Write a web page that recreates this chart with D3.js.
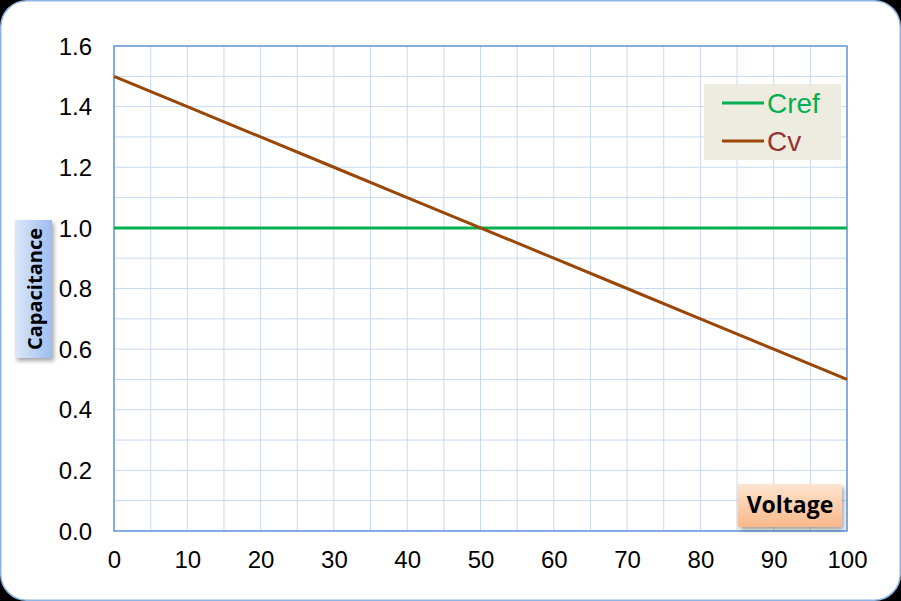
<!DOCTYPE html>
<html><head><meta charset="utf-8">
<script src="https://cdn.jsdelivr.net/npm/d3@7"></script>
<style>html,body{margin:0;padding:0;background:#000;}svg{display:block;}</style>
</head><body>
<script>
const voltage = [0, 10, 20, 30, 40, 50, 60, 70, 80, 90, 100];
const cref = [1.0, 1.0, 1.0, 1.0, 1.0, 1.0, 1.0, 1.0, 1.0, 1.0, 1.0];
const cv = [1.5, 1.4, 1.3, 1.2, 1.1, 1.0, 0.9, 0.8, 0.7, 0.6, 0.5];
const xTicks = [0, 10, 20, 30, 40, 50, 60, 70, 80, 90, 100];
const yTicks = [0, 0.2, 0.4, 0.6, 0.8, 1.0, 1.2, 1.4, 1.6];
const seriesNames = ["Cref", "Cv"];

const W = 901, H = 601;
const svg = d3.select("body").append("svg").attr("width", W).attr("height", H);
const defs = svg.append("defs");

const gBlue = defs.append("linearGradient").attr("id", "gBlue").attr("x1", 0).attr("x2", 1).attr("y1", 0).attr("y2", 0);
gBlue.append("stop").attr("offset", "0%").attr("stop-color", "#dce8f9");
gBlue.append("stop").attr("offset", "100%").attr("stop-color", "#9dbcf0");
const gOr = defs.append("linearGradient").attr("id", "gOr").attr("x1", 0).attr("x2", 0).attr("y1", 0).attr("y2", 1);
gOr.append("stop").attr("offset", "0%").attr("stop-color", "#fde4d0");
gOr.append("stop").attr("offset", "100%").attr("stop-color", "#f9b98a");
const sh = defs.append("filter").attr("id", "sh").attr("x", "-30%").attr("y", "-30%").attr("width", "160%").attr("height", "160%");
sh.append("feDropShadow").attr("dx", 2).attr("dy", 3).attr("stdDeviation", 2).attr("flood-color", "#000").attr("flood-opacity", 0.35);

svg.append("rect").attr("x", 0.75).attr("y", 0.75).attr("width", W - 1.5).attr("height", H - 1.5)
  .attr("rx", 26).attr("ry", 26).attr("fill", "#fff").attr("stroke", "#8db4e2").attr("stroke-width", 1.5);

const L = 114, R = 847, T = 46, B = 531;
const x = d3.scaleLinear().domain([0, 100]).range([L, R]);
const y = d3.scaleLinear().domain([0, 1.6]).range([B, T]);

// gridlines
const grid = svg.append("g");
grid.selectAll(".vg").data(d3.range(5, 100, 5)).enter().append("line")
  .attr("x1", d => x(d)).attr("x2", d => x(d)).attr("y1", T).attr("y2", B)
  .attr("stroke", "#c6d9f1").attr("stroke-width", 1);
grid.selectAll(".hg").data(d3.range(1, 16).map(i => i / 10)).enter().append("line")
  .attr("x1", L).attr("x2", R).attr("y1", d => y(d)).attr("y2", d => y(d))
  .attr("stroke", "#c6d9f1").attr("stroke-width", 1);

svg.append("rect").attr("x", L).attr("y", T).attr("width", R - L).attr("height", B - T)
  .attr("fill", "none").attr("stroke", "#5b93da").attr("stroke-width", 1.5);

const fontA = "Liberation Sans, Arial, sans-serif";
// axes
const xAxis = svg.append("g").attr("transform", `translate(0,${B})`)
  .call(d3.axisBottom(x).tickValues(xTicks).tickSize(0).tickPadding(20).tickFormat(d3.format("d")));
xAxis.select(".domain").remove();
xAxis.selectAll("text").attr("font-family", fontA).attr("font-size", 24).attr("fill", "#000").attr("dy", "0.72em");

const yAxis = svg.append("g").attr("transform", `translate(${L},0)`)
  .call(d3.axisLeft(y).tickValues(yTicks).tickSize(0).tickPadding(22).tickFormat(d3.format(".1f")));
yAxis.select(".domain").remove();
yAxis.selectAll("text").attr("font-family", fontA).attr("font-size", 24).attr("fill", "#000").attr("dy", "0.34em");

// lines
const line = d3.line().x((d, i) => x(voltage[i])).y(d => y(d));
svg.append("path").datum(cref).attr("d", line).attr("fill", "none").attr("stroke", "#00b050").attr("stroke-width", 3);
svg.append("path").datum(cv).attr("d", line).attr("fill", "none").attr("stroke", "#9a4606").attr("stroke-width", 3);

// legend
const lg = svg.append("g");
lg.append("rect").attr("x", 704).attr("y", 84).attr("width", 137).attr("height", 76).attr("fill", "#eeebe0");
const lcols = ["#00b050", "#9a4606"], tcols = ["#00b050", "#943634"];
seriesNames.forEach((n, i) => {
  const yy = 103 + i * 38;
  lg.append("line").attr("x1", 722).attr("x2", 764).attr("y1", yy).attr("y2", yy).attr("stroke", lcols[i]).attr("stroke-width", 3);
  lg.append("text").attr("x", 767).attr("y", yy).attr("dy", "0.36em").attr("font-family", fontA)
    .attr("font-size", 28).attr("fill", tcols[i]).text(n);
});

// axis title boxes
svg.append("rect").attr("x", 15).attr("y", 220).attr("width", 37).attr("height", 138).attr("fill", "url(#gBlue)").attr("filter", "url(#sh)");
svg.append("text").attr("transform", "translate(35,289) rotate(-90)").attr("text-anchor", "middle").attr("dy", "0.35em")
  .attr("font-family", "Open Sans, Liberation Sans, sans-serif").attr("font-weight", "bold").attr("font-size", 20).attr("fill", "#000").text("Capacitance");

svg.append("rect").attr("x", 738).attr("y", 484).attr("width", 104).attr("height", 43).attr("fill", "url(#gOr)").attr("filter", "url(#sh)");
svg.append("text").attr("x", 790).attr("y", 505).attr("text-anchor", "middle").attr("dy", "0.35em")
  .attr("font-family", "Open Sans, Liberation Sans, sans-serif").attr("font-weight", "bold").attr("font-size", 23).attr("fill", "#000").text("Voltage");
</script>
</body></html>
